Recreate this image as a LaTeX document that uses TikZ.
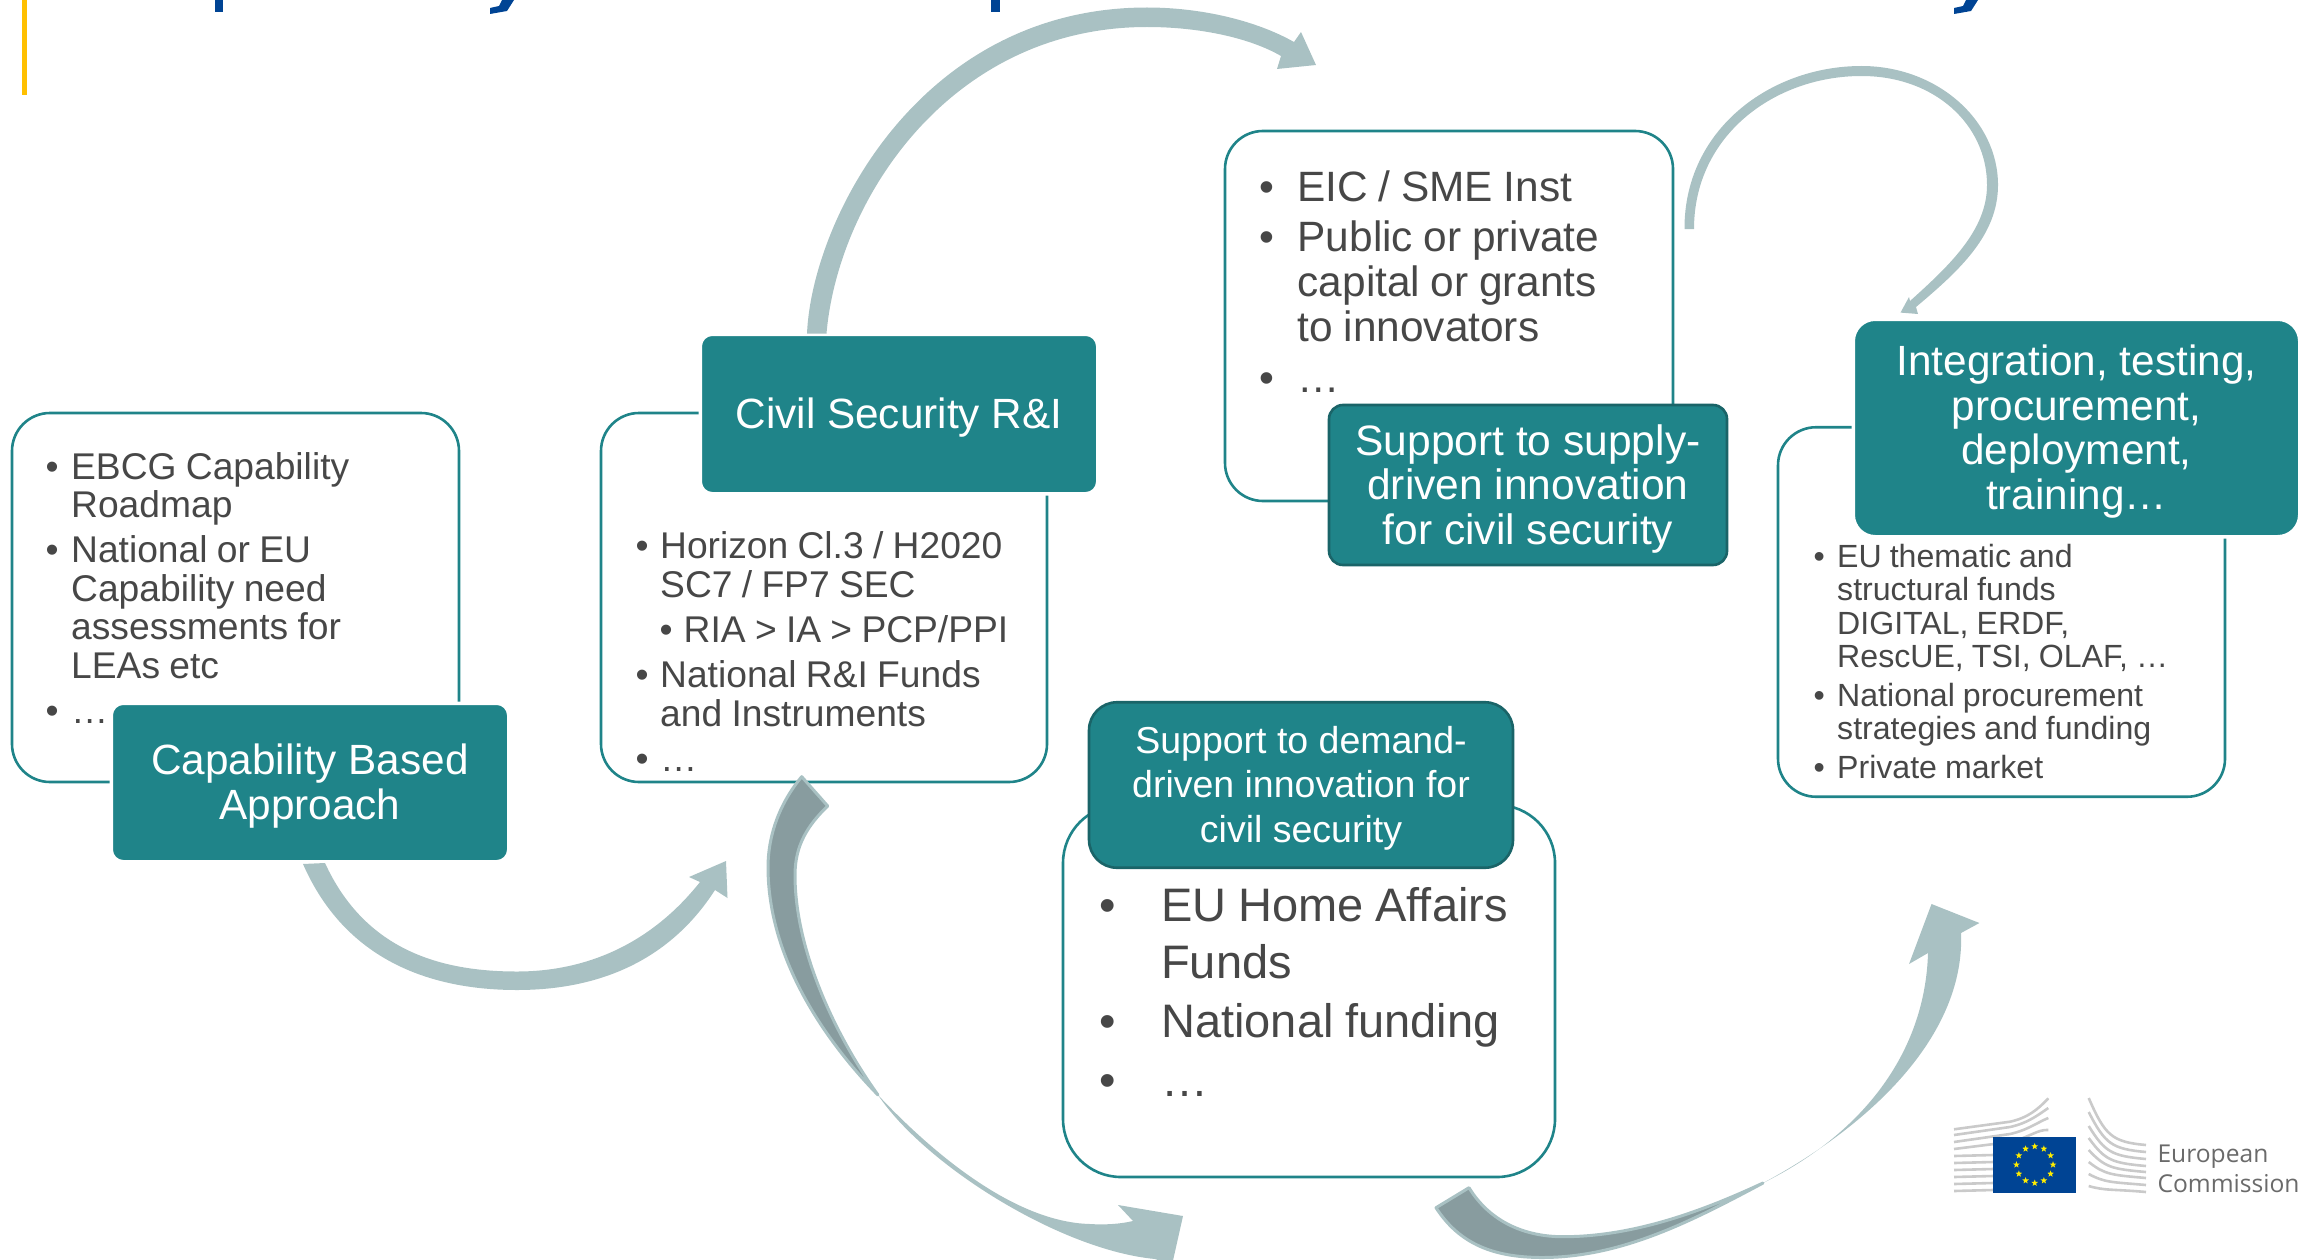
\documentclass[tikz,border=0pt]{standalone}
\usepackage{fontspec}
\setmainfont{Liberation Sans}
\newfontfamily\logofont{Open Sans}
\usetikzlibrary{shapes.geometric,calc}
\definecolor{tealfill}{HTML}{1F8489}
\definecolor{tealdark}{HTML}{1A6468}
\definecolor{flowlight}{HTML}{A9C1C3}
\definecolor{flowdark}{HTML}{889C9F}
\definecolor{bodygrey}{HTML}{474747}
\definecolor{titleblue}{HTML}{004494}
\definecolor{baryellow}{HTML}{FFC000}
\definecolor{logogrey}{HTML}{CACACA}
\definecolor{logotext}{HTML}{6A6A6A}
\definecolor{staryellow}{HTML}{FFED00}
\newcommand{\fb}[1]{\leavevmode\llap{\makebox[0pt]{•}\hskip #1}}
\newcommand{\bl}[1]{\par\noindent\llap{\makebox[0pt]{•}\hskip #1}}
\newcommand{\hd}{\rule{0pt}{.9em}}
\tikzset{
  x=1pt,y=-1pt,
  panel/.style={draw=tealfill,line width=2.6pt,fill=white,rounded corners=#1,inner sep=0pt},
  panel/.default=38pt,
  banner/.style={fill=tealfill,text=white,align=center,inner sep=0pt},
  halobanner/.style={banner,draw=white,line width=3.5pt,rounded corners=#1},
  darkbanner/.style={banner,draw=tealdark,line width=2.6pt,rounded corners=#1},
  bullets/.style n args={4}{anchor=base west,inner sep=0pt,text=bodygrey,align=left,text width=#1,
     font=\fontsize{#2}{#3}\selectfont,execute at begin node={\setlength{\parskip}{#4}\spaceskip=.25em\relax}},
  headfont/.style={font=\fontsize{#1}{44.5pt}\selectfont},
  flow/.style={fill=flowlight},
  flowcore/.style={fill=flowdark,draw=flowlight,line width=3pt,line join=round},
  logoline/.style={draw=logogrey,line width=2.6pt},
}
\begin{document}
\begin{tikzpicture}
\useasboundingbox (0,0) rectangle (2306,1260);
% accent bar and cut-off heading
\fill[baryellow] (22,0) rectangle (27,95.5);
\fill[titleblue] (215,0) rectangle (223,12.5);
\fill[titleblue] (991,0) rectangle (1000,12.5);
\fill[titleblue] (502,0) -- (514,0) -- (507,11) -- (490,14) -- (490,8) -- (499,6) -- cycle;
\fill[titleblue] (1966,0) -- (1978,0) -- (1971,11) -- (1954,14) -- (1954,8) -- (1963,6) -- cycle;
% panels
\node[panel,minimum width=447pt,minimum height=369pt] (p1) at (235.5,597.5) {};
\node[panel,minimum width=446pt,minimum height=369pt] (p2) at (824,597.5) {};
\node[panel,minimum width=448pt,minimum height=370pt] (p3) at (1449,316) {};
\node[panel,minimum width=447pt,minimum height=369.5pt] (p4) at (2001.5,612) {};
\node[panel=58pt,minimum width=492pt,minimum height=372pt] (p5) at (1309,991) {};
% panel texts
\node[bullets={400pt}{37.2pt}{38.8pt}{5.6pt}] (t1) at (71,479) {\fb{19pt}EBCG Capability\\Roadmap\bl{19pt}National or EU\\Capability need\\assessments for\\LEAs etc\bl{19pt}…};
\node[bullets={400pt}{37.2pt}{38.8pt}{6.2pt}] (t2) at (660,558.5) {\fb{18pt}Horizon Cl.3 / H2020\\SC7 / FP7 SEC\par\noindent\hspace*{23.5pt}\llap{\makebox[0pt]{•}\hskip 17.5pt}RIA > IA > PCP/PPI\bl{18pt}National R\&I Funds\\and Instruments\bl{18pt}…};
\node[bullets={400pt}{42.4pt}{44.5pt}{6.5pt}] (t3) at (1297.5,201) {\fb{31pt}EIC / SME Inst\bl{31pt}Public or private\\capital or grants\\to innovators\bl{31pt}…};
\node[bullets={400pt}{32.1pt}{33.3pt}{5.6pt}] (t4) at (1837,567.5) {\fb{18pt}EU thematic and\\structural funds\\DIGITAL, ERDF,\\RescUE, TSI, OLAF, …\bl{18pt}National procurement\\strategies and funding\bl{18pt}Private market};
\node[bullets={400pt}{47pt}{57pt}{2pt}] (t5) at (1161,921) {\fb{53.5pt}EU Home Affairs\\Funds\bl{53.5pt}National funding\bl{53.5pt}…};
% banners
\node[halobanner=12pt,headfont=42.3pt,minimum width=397.5pt,minimum height=158.5pt] (b1) at (310,782.5) {\hd Capability Based\\Approach};
\node[halobanner=12pt,headfont=42.3pt,minimum width=397.5pt,minimum height=159.5pt] (b2) at (899,414) {\hd Civil Security R\&I};
\node[darkbanner=14pt,headfont=42.5pt,minimum width=398pt,minimum height=160pt] (b3) at (1528,485) {\hd Support to supply-\\driven innovation\\for civil security};
\node[halobanner=22pt,headfont=42.3pt,minimum width=446.5pt,minimum height=217.5pt] (b4) at (2076.5,428) {\hd Integration, testing,\\procurement,\\deployment,\\training…};
\node[darkbanner=28pt,headfont=37.5pt,minimum width=424pt,minimum height=165.5pt] (b5) at (1301,785) {\hd Support to demand-\\driven innovation for\\civil security};
% flow arrow: Capability Based Approach to Civil Security R&I
\coordinate (fa1) at (303,864); \coordinate (fa2) at (325,863); \coordinate (fatip) at (726,861);
\fill[flow] (fa1) .. controls (345,960) and (430,990) .. (517,990) .. controls (600,990) and (670,960) .. (715,890)
  -- (727.5,898) -- (fatip) -- (689,877) -- (700,882) .. controls (650,945) and (585,971.5) .. (517,971.5)
  .. controls (440,971.5) and (365,950) .. (fa2) -- cycle;
% flow arrow: Civil Security R&I to supply-driven support
\coordinate (fb1) at (807,333.5); \coordinate (fb2) at (826.5,333.5); \coordinate (fbtip) at (1316,65);
\fill[flow] (fb1) .. controls (812,220) and (920,7.5) .. (1147,7.5) .. controls (1200,7.5) and (1255,20) .. (1294,42)
  -- (1301,32) -- (fbtip) -- (1277,69) -- (1281,56) .. controls (1250,38) and (1200,27) .. (1147,27)
  .. controls (950,27) and (838,200) .. (fb2) -- cycle;
% flow arrow: supply-driven panel to integration
\coordinate (fc1) at (1684.5,229); \coordinate (fc2) at (1694,229); \coordinate (fctip) at (1900.5,312.6);
\fill[flow] (fc1) .. controls (1684,130) and (1770,66) .. (1861.5,66) .. controls (1937,66) and (1998,120) .. (1998,185)
  .. controls (1998,235) and (1960,270) .. (1916,307) -- (1918,314) -- (fctip) -- (1909,297) -- (1910,301)
  .. controls (1950,265) and (1987,230) .. (1987,185) .. controls (1987,125) and (1935,76) .. (1861.5,76)
  .. controls (1775,76) and (1694,135) .. (fc2) -- cycle;
% flow arrow: Civil Security panel to demand-driven panel (twisted ribbon)
\coordinate (fd1) at (801.7,776.7); \coordinate (fd2) at (827.7,806); \coordinate (fdm1) at (768,867); \coordinate (fdm2) at (795,875); \coordinate (fdx) at (878,1095); \coordinate (fdtip) at (1183,1216);
\fill[flow] (fdx) .. controls (925,1145) and (1010,1222) .. (1090,1224) .. controls (1105,1225) and (1120,1224) .. (1133,1221)
  -- (1118,1205) -- (fdtip) -- (1172,1265) -- (1155,1259) .. controls (1060,1250) and (925,1165) .. (fdx) -- cycle;
\filldraw[flowcore] (fd1) -- (fd2) .. controls (808,825) and (795,845) .. (fdm2) .. controls (795,950) and (835,1035) .. (fdx)
  .. controls (815,1030) and (768,950) .. (fdm1) .. controls (768,838) and (778,805) .. (fd1) -- cycle;
% flow arrow: demand-driven panel to integration panel (twisted ribbon)
\coordinate (fe1) at (1469,1187.7); \coordinate (fe2) at (1436,1207.7); \coordinate (fem1) at (1563,1236.7); \coordinate (fem2) at (1540,1257.5); \coordinate (fex) at (1763,1183); \coordinate (fetip) at (1931.5,904);
\fill[flow] (fex) .. controls (1860,1135) and (1925,1055) .. (1928,953) -- (1909,964) -- (fetip) -- (1979.4,923) -- (1961,933)
  .. controls (1965,1030) and (1880,1120) .. (fex) -- cycle;
\filldraw[flowcore] (fe1) .. controls (1490,1222) and (1525,1236.7) .. (fem1) .. controls (1635,1236.7) and (1705,1210) .. (fex)
  .. controls (1690,1222) and (1620,1258) .. (fem2) .. controls (1495,1257) and (1460,1245) .. (fe2) -- cycle;
% European Commission logo
\foreach \ya/\yb/\yc in {1129.3/1121.7/1098.3,1135/1127/1108,1142/1134/1118,1149/1142/1130}
  \draw[logoline] (1954,\ya) -- (2010,\yb) .. controls (2028,\yb-4) and (2038,\ya-20) .. (2048.3,\yc);
\foreach \yy in {1156,1163,1170,1177,1184,1191}
  \draw[logoline] (1954,\yy) -- (1993,\yy-1);
\foreach \ya/\yb in {1098/1145,1112/1152,1126/1159,1138/1166,1150/1172,1162/1178,1174/1185,1186/1192}
  \draw[logoline] (2088.7,\ya) .. controls (2105,{\ya+.8*(\yb-\ya)}) and (2112,\yb-3) .. (2146,\yb);
\fill[titleblue] (1993.3,1136.7) rectangle (2076,1192.7);
\coordinate (eu) at (2034.7,1164.7);
\foreach \a in {0,30,...,330}
  \node[star,star points=5,star point ratio=2.4,fill=staryellow,inner sep=0pt,minimum size=7pt] (s\a) at ($(eu)+(\a:18.3pt)$) {};
\node[anchor=base west,inner sep=0pt,text=logotext,font=\logofont\fontsize{24.6pt}{29pt}\selectfont] (lg1) at (2157.3,1162.7) {European};
\node[anchor=base west,inner sep=0pt,text=logotext,font=\logofont\fontsize{24.6pt}{29pt}\selectfont] (lg2) at (2157.3,1192.7) {Commission};
\end{tikzpicture}
\end{document}
